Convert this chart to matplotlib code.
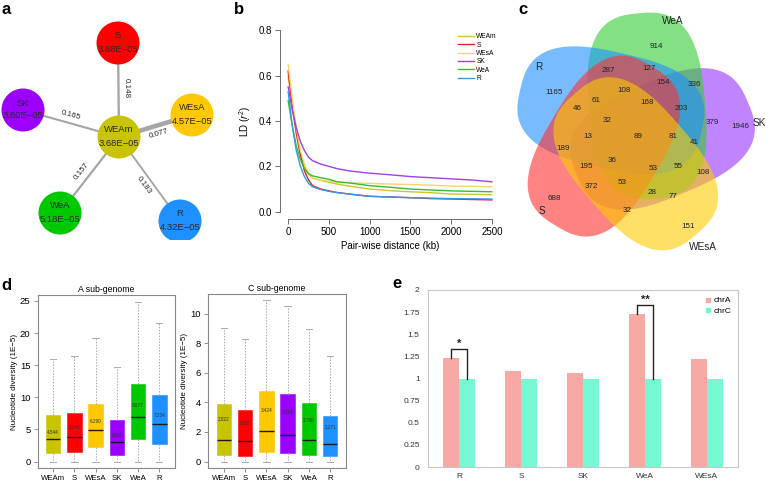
import numpy as np
import matplotlib
matplotlib.use('Agg')
import matplotlib.pyplot as plt
from matplotlib.patches import Circle, Polygon
from matplotlib.lines import Line2D

plt.rcParams['font.family'] = ['Liberation Sans', 'DejaVu Sans']
plt.rcParams['mathtext.fontset'] = 'custom'
plt.rcParams['mathtext.rm'] = 'Liberation Sans'
plt.rcParams['mathtext.it'] = 'Liberation Sans:italic'

# ------------------------------------------------------------------ data
# (a) Fst network (edges from WEAm) and nucleotide diversity of each group
net_center = 'WEAm'
net_leaves = ['S', 'SK', 'WEsA', 'WeA', 'R']
net_fst = [0.148, 0.165, 0.077, 0.157, 0.183]
net_pi = {'WEAm': '3.68E−05', 'S': '3.68E−05', 'SK': '3.80E−05',
          'WEsA': '4.57E−05', 'WeA': '5.18E−05', 'R': '4.32E−05'}

# (b) LD decay
ld_dist = [0, 50, 100, 150, 200, 250, 300, 400, 500, 600, 750, 1000,
           1250, 1500, 1750, 2000, 2250, 2500]
ld_weam = [0.60, 0.46, 0.34, 0.25, 0.20, 0.165, 0.148, 0.138, 0.130, 0.122,
           0.113, 0.100, 0.093, 0.088, 0.084, 0.078, 0.077, 0.075]
ld_s = [0.62, 0.47, 0.35, 0.25, 0.18, 0.14, 0.115, 0.100, 0.092, 0.085,
        0.078, 0.068, 0.065, 0.062, 0.058, 0.056, 0.054, 0.052]
ld_wesa = [0.65, 0.50, 0.37, 0.27, 0.21, 0.17, 0.150, 0.140, 0.135, 0.130,
           0.128, 0.125, 0.122, 0.120, 0.117, 0.113, 0.112, 0.110]
ld_sk = [0.55, 0.45, 0.37, 0.31, 0.27, 0.24, 0.225, 0.210, 0.200, 0.190,
         0.180, 0.170, 0.163, 0.155, 0.150, 0.145, 0.140, 0.132]
ld_wea = [0.49, 0.38, 0.29, 0.23, 0.19, 0.168, 0.158, 0.150, 0.143, 0.132,
          0.127, 0.115, 0.108, 0.100, 0.096, 0.092, 0.090, 0.088]
ld_r = [0.53, 0.38, 0.27, 0.20, 0.155, 0.125, 0.110, 0.098, 0.090, 0.084,
        0.078, 0.068, 0.065, 0.062, 0.060, 0.058, 0.057, 0.056]
ld_names = ['WEAm', 'S', 'WEsA', 'SK', 'WeA', 'R']

# (c) five-set Venn
venn_sets = ['SK', 'WeA', 'R', 'S', 'WEsA']
venn_counts = [914, 287, 127, 154, 336, 1165, 108, 61, 168, 203, 46, 32, 379,
               1946, 13, 89, 81, 41, 189, 36, 195, 53, 55, 108, 372, 53, 28,
               77, 688, 32, 151]

# (d) nucleotide diversity boxplots (1E-5)
box_groups = ['WEAm', 'S', 'WEsA', 'SK', 'WeA', 'R']
a_q1 = [1.3, 1.45, 2.2, 1.0, 3.45, 2.7]
a_med = [3.55, 3.75, 4.85, 3.05, 7.0, 5.8]
a_q3 = [7.2, 7.5, 9.0, 6.4, 12.0, 10.3]
a_hi = [15.9, 16.5, 19.3, 14.7, 24.9, 21.5]
a_mean = ['4.544', '5.241', '6.290', '4.023', '8.677', '7.234']
c_q1 = [0.41, 0.36, 0.66, 0.59, 0.45, 0.34]
c_med = [1.45, 1.39, 2.07, 1.82, 1.45, 1.18]
c_q3 = [3.9, 3.52, 4.75, 4.55, 3.98, 3.11]
c_hi = [9.07, 8.3, 10.9, 10.5, 8.95, 7.16]
c_mean = ['2.822', '2.606', '3.424', '3.318', '2.760', '2.271']

# (e) ratio chrA / chrC
e_groups = ['R', 'S', 'SK', 'WeA', 'WEsA']
e_chrA = [1.23, 1.085, 1.065, 1.725, 1.225]
e_chrC = [1.0, 1.0, 1.0, 1.0, 1.0]
e_sig = ['*', '', '', '**', '']

# ------------------------------------------------------------------ style
pop_colors = {'WEAm': '#C8C400', 'S': '#FF0000', 'WEsA': '#FFC800',
              'SK': '#9B00FF', 'WeA': '#00C800', 'R': '#1E90FF'}
line_colors = {'WEAm': '#C9C92A', 'S': '#E5202A', 'WEsA': '#F5D66A',
               'SK': '#A040E8', 'WeA': '#30C030', 'R': '#3399E8'}
venn_colors = {'SK': '#9933FF', 'WeA': '#33CC33', 'R': '#1E90FF',
               'S': '#FF3030', 'WEsA': '#FFCC00'}

W, H = 766, 482
fig = plt.figure(figsize=(W / 100, H / 100), dpi=100)


def px_axes(x0, y0, x1, y1):
    return fig.add_axes([x0 / W, 1 - y1 / H, (x1 - x0) / W, (y1 - y0) / H])


def ftext(x, y, s, **kw):
    fig.text(x / W, 1 - y / H, s, **kw)


# ------------------------------------------------------------------ (a)
axa = px_axes(0, 0, 215, 240)
axa.set_xlim(0, 215)
axa.set_ylim(240, 0)
axa.set_aspect('equal')
axa.axis('off')
node_pos = {'WEAm': (119, 137), 'S': (118, 43), 'SK': (23, 110),
            'WEsA': (192, 115), 'WeA': (60, 213), 'R': (180, 221)}
cx, cy = node_pos[net_center]
for leaf, fst in zip(net_leaves, net_fst):
    lx, ly = node_pos[leaf]
    axa.plot([cx, lx], [cy, ly], color='#A6A6A6', lw=0.25 / fst,
             solid_capstyle='butt', zorder=1)
    dx, dy = lx - cx, ly - cy
    L = np.hypot(dx, dy)
    nx, ny = -dy / L, dx / L
    mx, my = cx + 0.52 * dx + 8 * nx, cy + 0.52 * dy + 8 * ny
    ang = np.degrees(np.arctan2(-dy, dx))
    if ang > 90:
        ang -= 180
    if ang < -90:
        ang += 180
    axa.text(mx, my, f'{fst:.3f}', rotation=ang, rotation_mode='anchor',
             ha='center', va='center', fontsize=5.8, color='#222222')
for name, (x, y) in node_pos.items():
    axa.add_patch(Circle((x, y), 21.5, color=pop_colors[name], zorder=2, lw=0))
    axa.text(x, y - 7, name, ha='center', va='center', fontsize=6.8,
             color='#2a2a2a', zorder=3)
    axa.text(x, y + 6, net_pi[name], ha='center', va='center', fontsize=6.8,
             color='#2a2a2a', zorder=3)

# ------------------------------------------------------------------ (b)
axb = px_axes(280, 23, 500, 219)
ld_series = [ld_weam, ld_s, ld_wesa, ld_sk, ld_wea, ld_r]
for name, ys in zip(ld_names, ld_series):
    axb.plot(ld_dist, ys, color=line_colors[name], lw=1.0, label=name)
axb.set_xlim(-100, 2600)
axb.set_ylim(-0.032, 0.832)
for s in ['top', 'right']:
    axb.spines[s].set_visible(False)
axb.spines['left'].set_bounds(0, 0.8)
axb.spines['bottom'].set_bounds(0, 2500)
for s in ['left', 'bottom']:
    axb.spines[s].set_linewidth(0.6)
    axb.spines[s].set_color('#555555')
axb.set_xticks([0, 500, 1000, 1500, 2000, 2500])
axb.set_yticks([0, 0.2, 0.4, 0.6, 0.8])
axb.set_yticklabels(['0.0', '0.2', '0.4', '0.6', '0.8'])
axb.tick_params(labelsize=7, length=3.5, width=0.6, color='#555555', pad=2)
axb.set_xlabel('Pair-wise distance (kb)', fontsize=7, labelpad=3)
axb.set_ylabel('LD ($\\mathit{r}^2$)', fontsize=7, labelpad=4)
axb.legend(loc='upper left', bbox_to_anchor=(455 / W, 1 - 30 / H),
           bbox_transform=fig.transFigure, frameon=False, fontsize=4.8,
           handlelength=2.4, handletextpad=0.3, labelspacing=0.2,
           borderpad=0)

# ------------------------------------------------------------------ (c)
axc = px_axes(505, 0, 766, 260)
axc.set_xlim(505, 766)
axc.set_ylim(260, 0)
axc.set_aspect('equal')
axc.axis('off')
vc = (632, 133)
base_ang = [-11, 61, 133, 205, 277]
d_off, a_ax, b_ax, n_exp = 31, 93, 58, 2.8
t = np.linspace(0, 2 * np.pi, 400)
u = a_ax * np.sign(np.cos(t)) * np.abs(np.cos(t)) ** (2 / n_exp)
v = b_ax * np.sign(np.sin(t)) * np.abs(np.sin(t)) ** (2 / n_exp)
for name, ang in zip(venn_sets, base_ang):
    th = np.radians(ang)
    ex, ey = vc[0] + d_off * np.cos(th), vc[1] - d_off * np.sin(th)
    phi = np.radians(ang + 34)
    xs = ex + u * np.cos(phi) - v * np.sin(phi)
    ys = ey - (u * np.sin(phi) + v * np.cos(phi))
    axc.add_patch(Polygon(np.column_stack([xs, ys]), closed=True,
                          facecolor=venn_colors[name], alpha=0.6, lw=0))
count_pos = [(656, 46), (608, 71), (649, 69), (663, 83), (694, 85),
             (554, 93), (624, 90), (596, 100), (647, 103), (681, 109),
             (577, 109), (607, 121), (712, 122), (740, 126), (588, 136),
             (638, 136), (673, 136), (694, 143), (563, 148), (612, 160),
             (586, 166), (653, 169), (678, 166), (703, 172), (591, 186),
             (622, 183), (652, 193), (673, 197), (554, 199), (627, 210),
             (688, 226)]
for cnt, (x, y) in zip(venn_counts, count_pos):
    axc.text(x, y, str(cnt), ha='center', va='center', fontsize=5.8,
             color='#222222')
set_label_pos = {'SK': (759, 123), 'WeA': (673, 21), 'R': (539, 67),
                 'S': (542, 211), 'WEsA': (703, 247)}
for name in venn_sets:
    x, y = set_label_pos[name]
    axc.text(x, y, name, ha='center', va='center', fontsize=7.2,
             color='#222222')

# ------------------------------------------------------------------ (d)


def draw_box(ax, q1, med, q3, hi, means, ylim, yticks):
    stats = []
    for i in range(len(box_groups)):
        stats.append(dict(med=med[i], q1=q1[i], q3=q3[i], whislo=0.0,
                          whishi=hi[i], fliers=[]))
    bp = ax.bxp(stats, positions=np.arange(1, 7), widths=0.68,
                patch_artist=True, showfliers=False, capwidths=0.3,
                whiskerprops=dict(color='#AAAAAA', lw=0.7, ls=(0, (1.5, 1.5))),
                capprops=dict(color='#AAAAAA', lw=0.7),
                medianprops=dict(color='#1a1a1a', lw=1.0),
                boxprops=dict(lw=0.4))
    for patch, g in zip(bp['boxes'], box_groups):
        patch.set_facecolor(pop_colors[g])
        patch.set_edgecolor(pop_colors[g])
    for i, m in enumerate(means):
        ax.text(i + 1, float(m), m, ha='center', va='center', fontsize=3.3,
                color='#333333')
    ax.set_xlim(0.26, 6.74)
    ax.set_ylim(*ylim)
    ax.set_yticks(yticks)
    ax.set_xticks(np.arange(1, 7))
    ax.set_xticklabels(box_groups, fontsize=5.6)
    ax.tick_params(axis='y', labelsize=6.8, length=3, width=0.5,
                   color='#666666', pad=2)
    ax.tick_params(axis='x', length=3, width=0.5, color='#666666', pad=2)
    for s in ax.spines.values():
        s.set_color('#888888')
        s.set_linewidth(0.8)
    ax.set_ylabel('Nucleotide diversity (1E−5)', fontsize=5.8, labelpad=1.5)


axdA = px_axes(37.5, 295, 175, 468)
draw_box(axdA, a_q1, a_med, a_q3, a_hi, a_mean, (-1.0, 25.93),
         [0, 5, 10, 15, 20, 25])
axdA.set_title('A sub-genome', fontsize=6.3, pad=2.5)

axdC = px_axes(208, 294, 346, 468)
draw_box(axdC, c_q1, c_med, c_q3, c_hi, c_mean, (-0.44, 11.34),
         [0, 2, 4, 6, 8, 10])
axdC.set_title('C sub-genome', fontsize=6.3, pad=2.5)

# ------------------------------------------------------------------ (e)
axe = px_axes(428, 290, 738, 467)
xe = np.arange(len(e_groups))
bw = 0.266
axe.bar(xe - bw / 2, e_chrA, bw, color='#F9A9A5', label='chrA')
axe.bar(xe + bw / 2, e_chrC, bw, color='#76F8D4', label='chrC')
for i, s in enumerate(e_sig):
    if s:
        top = max(e_chrA[i], e_chrC[i]) + 0.1
        axe.plot([i - bw / 2, i - bw / 2, i + bw / 2, i + bw / 2],
                 [e_chrA[i], top, top, e_chrC[i]], color='#222222', lw=1.0)
        axe.text(i, top + 0.005, s, ha='center', va='bottom', fontsize=8,
                 fontweight='bold', color='#222222')
axe.set_xlim(-0.5, 4.5)
axe.set_ylim(0, 2)
yt = [0, 0.25, 0.5, 0.75, 1, 1.25, 1.5, 1.75, 2]
axe.set_yticks(yt)
axe.set_yticklabels([f'{v:g}' for v in yt])
axe.set_xticks(xe)
axe.set_xticklabels(e_groups)
axe.tick_params(labelsize=6, length=0, pad=6, colors='#333333')
axe.tick_params(axis='x', pad=4)
for s in axe.spines.values():
    s.set_color('#C8C8C8')
    s.set_linewidth(0.8)
handles = [Line2D([], [], marker='s', ls='', color='#F9A9A5', markersize=3.5),
           Line2D([], [], marker='s', ls='', color='#76F8D4', markersize=3.5)]
axe.legend(handles, ['chrA', 'chrC'], loc='upper right', frameon=False,
           fontsize=6, handletextpad=0.1, labelspacing=0.35,
           borderaxespad=0.4, handlelength=1.0)

# ------------------------------------------------------------------ panel letters
for lab, (x, y) in {'a': (1, 10), 'b': (234, 9), 'c': (518, 9),
                    'd': (1, 285), 'e': (392, 284)}.items():
    ftext(x, y, lab, fontsize=12, fontweight='bold', va='center', ha='left')

fig.savefig('out.png', dpi=100)
